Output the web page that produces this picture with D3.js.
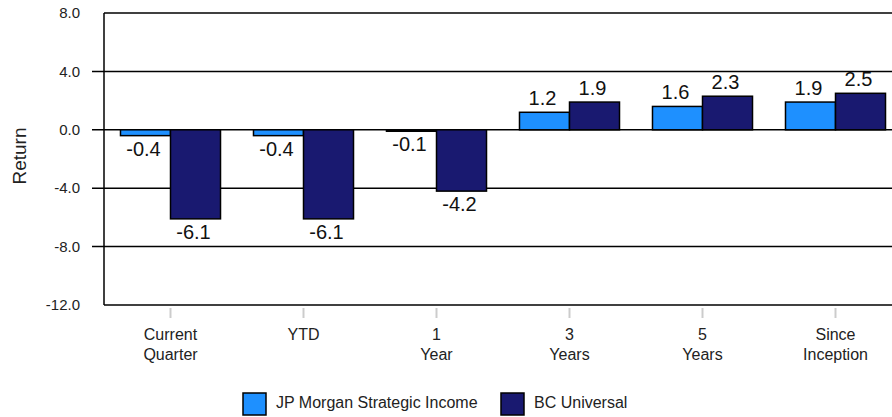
<!DOCTYPE html>
<html>
<head>
<meta charset="utf-8">
<script src="https://cdn.jsdelivr.net/npm/d3@7"></script>
<style>
  body { margin: 0; background: #fff; }
  svg { display: block; font-family: "Liberation Sans", Arial, sans-serif; }
</style>
</head>
<body>
<svg id="chart" width="892" height="417"></svg>
<script>
const width = 892, height = 417;
const margin = { top: 13, left: 104, bottom: 112 };

// data
const categories = [["Current", "Quarter"], ["YTD"], ["1", "Year"], ["3", "Years"], ["5", "Years"], ["Since", "Inception"]];
const seriesNames = ["JP Morgan Strategic Income", "BC Universal"];
const jpValues = [-0.4, -0.4, -0.1, 1.2, 1.6, 1.9];
const bcValues = [-6.1, -6.1, -4.2, 1.9, 2.3, 2.5];
const colors = ["#1E90FF", "#191970"];
const yTicks = [8, 4, 0, -4, -8, -12];

const svg = d3.select("#chart");
const catKeys = categories.map(c => c.join(" "));

//outer band per category, inner band per series
const x0 = d3.scaleBand().domain(catKeys).range([margin.left, margin.left + 6 * 133])
  .paddingInner(0.248).paddingOuter(0.124);
const x1 = d3.scaleBand().domain(seriesNames).range([0, x0.bandwidth()]);
const y = d3.scaleLinear().domain([-12, 8]).range([height - margin.bottom, margin.top]);

//gridlines + left ticks
svg.append("g").selectAll("line").data(yTicks.filter(t => t !== 8 && t !== -12)).join("line")
  .attr("x1", margin.left - 12).attr("x2", width)
  .attr("y1", d => y(d)).attr("y2", d => y(d))
  .attr("stroke", "#000").attr("stroke-width", 1.5);

//top + bottom border lines
svg.append("g").selectAll("line").data([8, -12]).join("line")
  .attr("x1", margin.left).attr("x2", width)
  .attr("y1", d => y(d)).attr("y2", d => y(d))
  .attr("stroke", "#000").attr("stroke-width", 1.5);

//left axis line
svg.append("line").attr("x1", margin.left).attr("x2", margin.left)
  .attr("y1", y(8)).attr("y2", y(-12)).attr("stroke", "#000").attr("stroke-width", 1.5);

//y tick labels (plain hyphen, not unicode minus)
svg.append("g").selectAll("text").data(yTicks).join("text")
  .attr("x", 80).attr("y", d => y(d)).attr("dy", "0.35em")
  .attr("text-anchor", "end").attr("font-size", 15).attr("fill", "#222")
  .text(d => d.toFixed(1));

svg.append("text").attr("transform", "translate(26,156) rotate(-90)")
  .attr("text-anchor", "middle").attr("font-size", 19).attr("fill", "#222").text("Return");

//x ticks (light gray)
svg.append("g").selectAll("line").data(catKeys).join("line")
  .attr("x1", d => x0(d) + x0.bandwidth() / 2).attr("x2", d => x0(d) + x0.bandwidth() / 2)
  .attr("y1", y(-12) + 3).attr("y2", y(-12) + 13)
  .attr("stroke", "#ccc").attr("stroke-width", 2);

//category labels
const catLabels = svg.append("g").selectAll("text").data(categories).join("text")
  .attr("x", (d, i) => x0(catKeys[i]) + x0.bandwidth() / 2)
  .attr("y", 340).attr("text-anchor", "middle").attr("font-size", 16).attr("fill", "#222");
catLabels.each(function(d) {
  const t = d3.select(this);
  d.forEach((s, j) => t.append("tspan").attr("x", t.attr("x")).attr("dy", j === 0 ? 0 : 20).text(s));
});

//bars
const rows = catKeys.map((k, i) => ({ key: k, vals: [jpValues[i], bcValues[i]] }));
const groups = svg.append("g").selectAll("g").data(rows).join("g")
  .attr("transform", d => `translate(${x0(d.key)},0)`);

groups.selectAll("rect").data(d => d.vals.map((v, j) => ({ v, s: seriesNames[j], j }))).join("rect")
  .attr("x", d => x1(d.s)).attr("width", x1.bandwidth())
  .attr("y", d => y(Math.max(0, d.v))).attr("height", d => Math.abs(y(d.v) - y(0)))
  .attr("fill", d => colors[d.j]).attr("stroke", "#000").attr("stroke-width", 1.5);

//value labels
groups.selectAll("text").data(d => d.vals.map((v, j) => ({ v, s: seriesNames[j] }))).join("text")
  .attr("x", d => x1(d.s) + x1.bandwidth() / 2 - 2)
  .attr("y", d => d.v >= 0 ? y(d.v) - 7 : y(d.v) + 20)
  .attr("text-anchor", "middle").attr("font-size", 20).attr("fill", "#111")
  .text(d => d.v.toFixed(1));

//legend
const legend = svg.append("g").selectAll("g").data(seriesNames).join("g")
  .attr("transform", (d, i) => `translate(${[243, 501][i]},393)`);
legend.append("rect").attr("width", 23).attr("height", 22)
  .attr("fill", (d, i) => colors[i]).attr("stroke", "#000").attr("stroke-width", 1.5);
legend.append("text").attr("x", 33).attr("y", 15)
  .attr("font-size", 16).attr("fill", "#222").text(d => d);
</script>
</body>
</html>
